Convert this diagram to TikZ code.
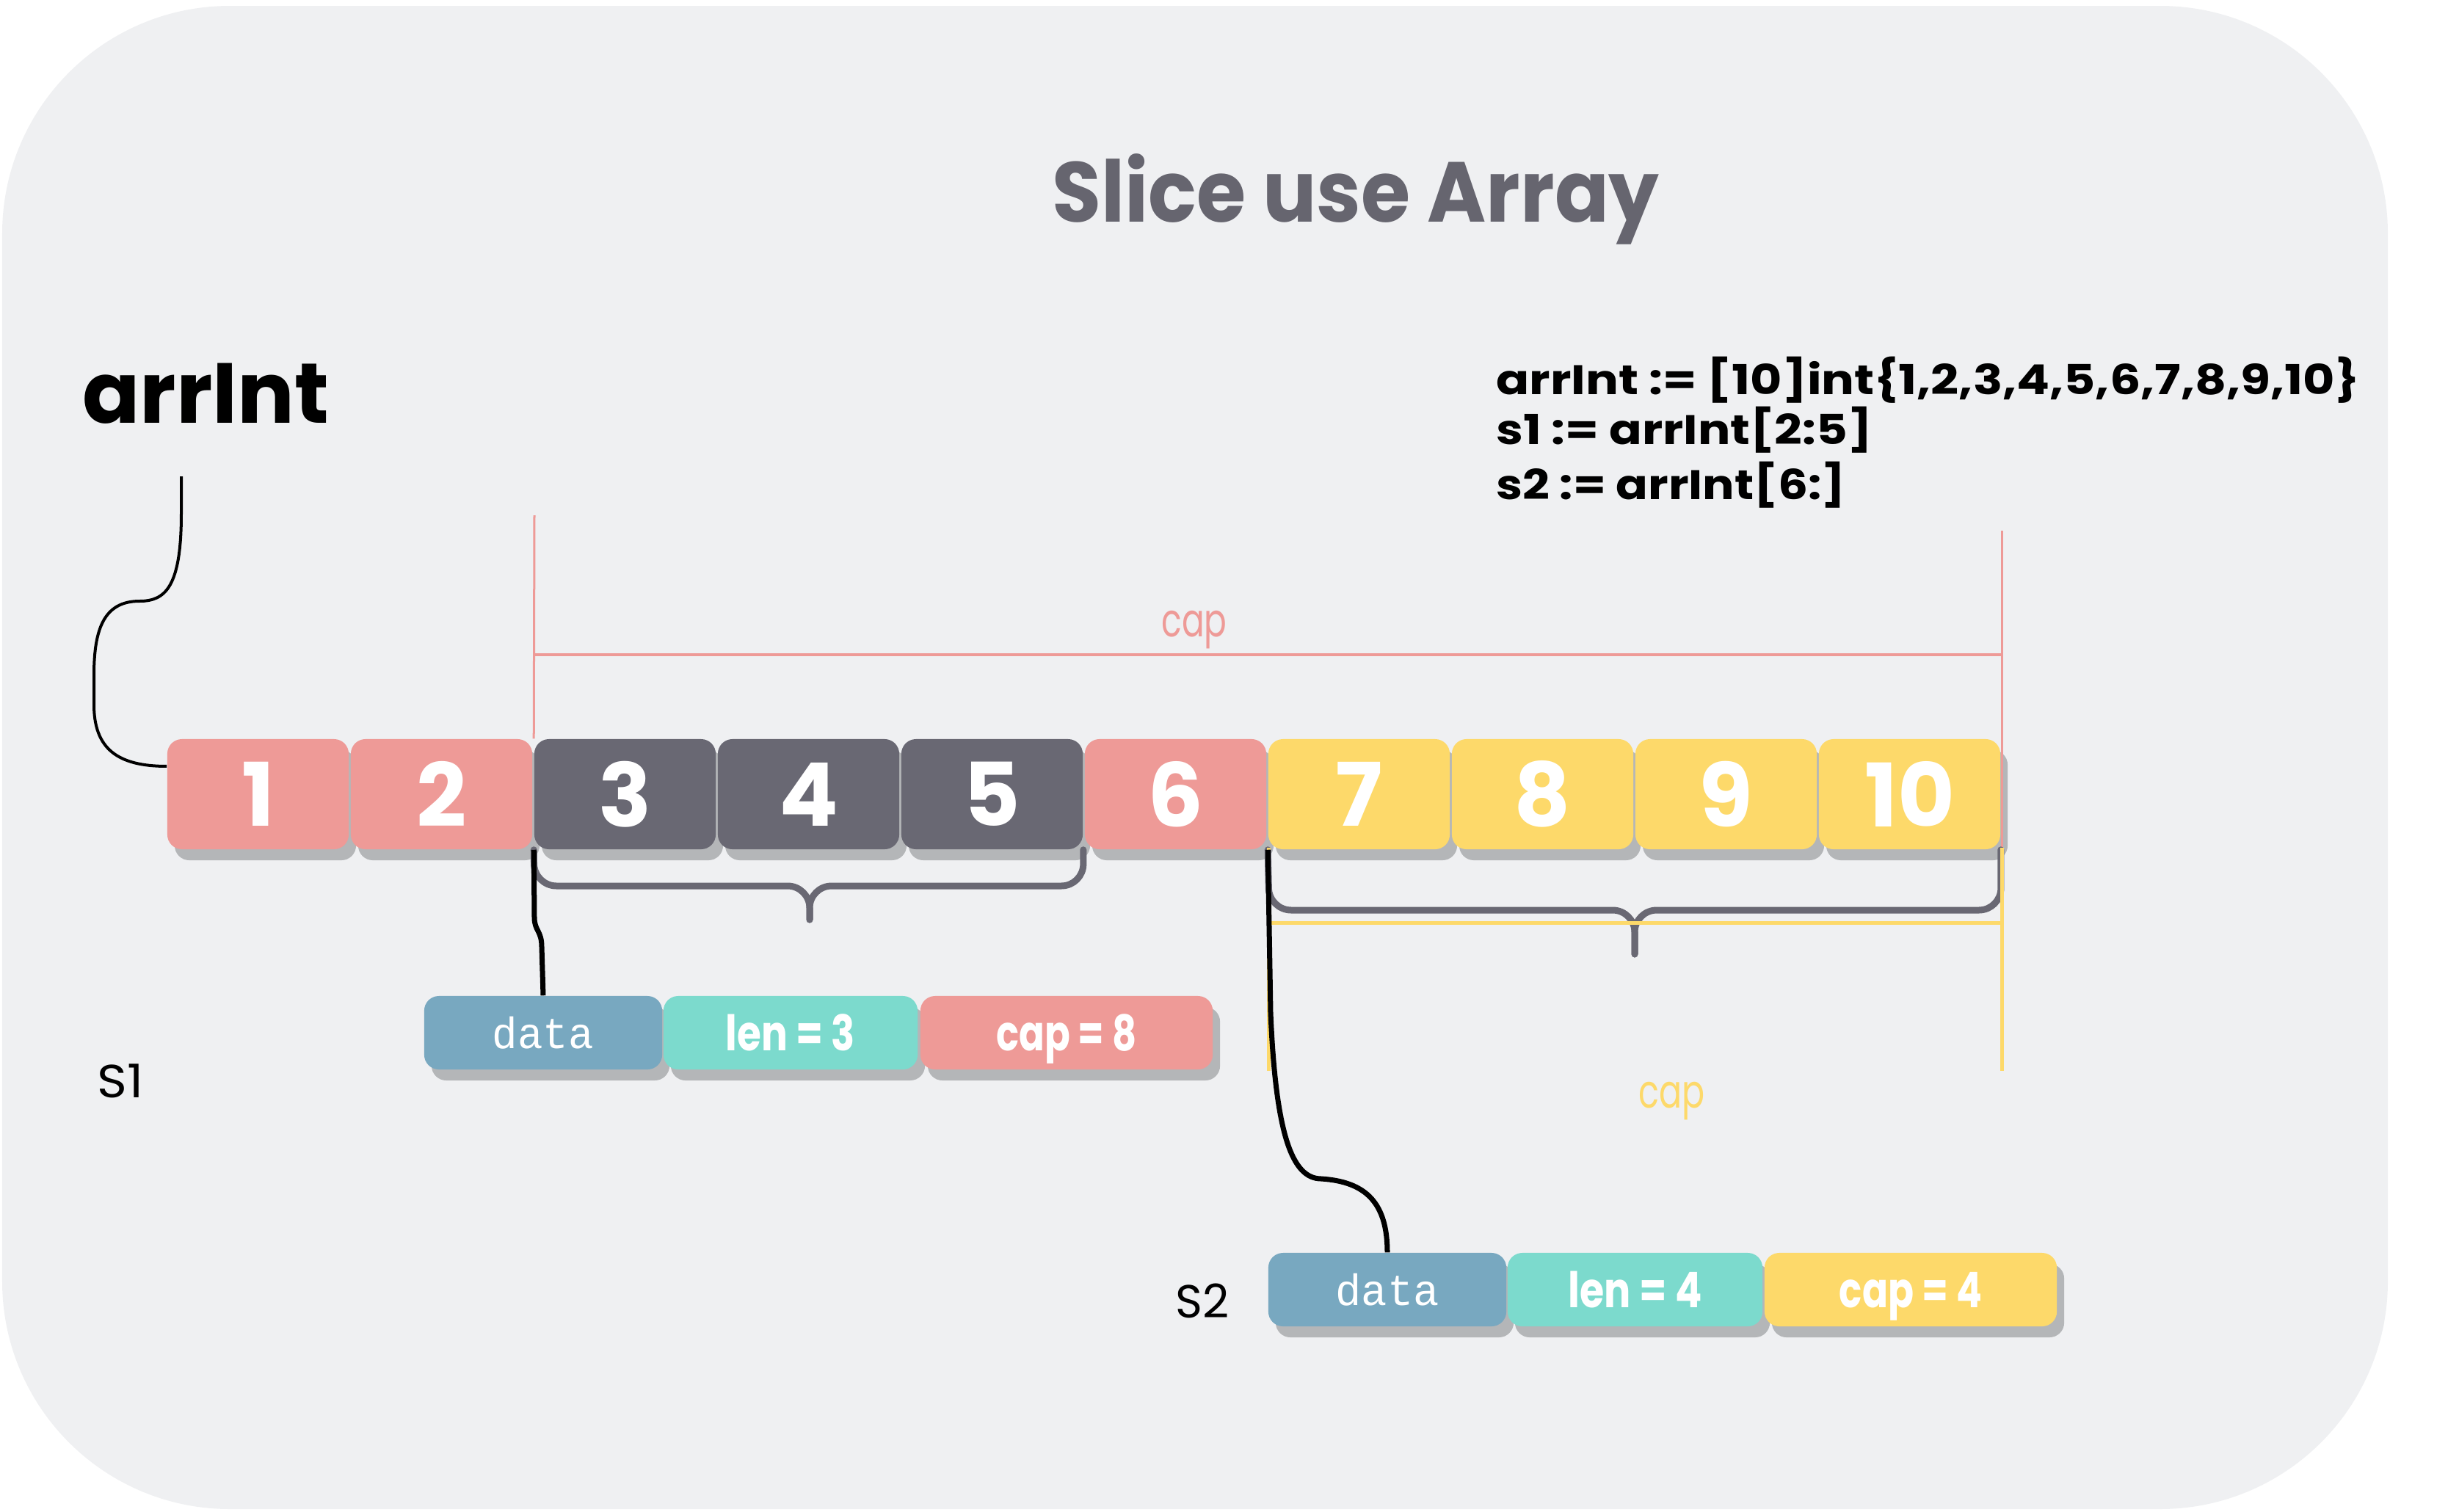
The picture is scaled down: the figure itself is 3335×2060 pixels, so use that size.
\documentclass[tikz,border=0pt]{standalone}
\usepackage{fontspec}
\setmainfont{Poppins}
\newfontfamily\monof{Liberation Mono}
\usetikzlibrary{shadows}
\definecolor{bgc}{HTML}{EFF0F2}
\definecolor{pk}{HTML}{EE9A97}
\definecolor{dk}{HTML}{696873}
\definecolor{yl}{HTML}{FDD96A}
\definecolor{bl}{HTML}{78A8C0}
\definecolor{tl}{HTML}{7CDACD}
\definecolor{shc}{HTML}{B4B6B8}
\definecolor{titc}{HTML}{66656F}
\newcommand\fitw[2]{\resizebox{#1}{\height}{#2}}
\begin{document}
\begin{tikzpicture}[x=0.01cm,y=-0.01cm,
  shadowed/.style={drop shadow={shadow xshift=0.1cm,shadow yshift=-0.15cm,fill=shc,opacity=1}},
  cell/.style={shadowed,rounded corners=0.2cm,minimum width=2.47cm,minimum height=1.5cm,inner sep=0pt,text=white,font=\fontsize{34}{40}\selectfont\bfseries},
  sbox/.style={shadowed,rounded corners=0.2cm,minimum height=1cm,inner sep=0pt,text=white,text depth=0pt,font=\fontsize{19}{22}\selectfont\bfseries},
  pinkline/.style={draw=pk,line width=0.03cm},
  yline/.style={draw=yl,line width=0.05cm},
  brace/.style={draw=dk,line width=0.09cm,rounded corners=0.3cm,line cap=round},
  conn/.style={draw=black,line width=0.07cm},
  connthin/.style={draw=black,line width=0.04cm}]
\useasboundingbox (0,0) rectangle (3335,2060);
\fill[bgc,rounded corners=3.1cm] (3,8) rectangle (3253,2056);

% title and labels
\node[anchor=base,text=titc,font=\fontsize{33}{40}\selectfont\bfseries] (title) at (1847,302) {\fitw{8.27cm}{Slice use Array}};
\node[anchor=base west,font=\fontsize{33}{40}\selectfont\bfseries] (arrlbl) at (100,576) {\fitw{3.36cm}{arrInt}};
\node[anchor=base west,font=\fontsize{16}{20}\selectfont\bfseries] (code1) at (2026,537) {\fitw{11.75cm}{arrInt := [10]int\{1,2,3,4,5,6,7,8,9,10\}}};
\node[anchor=base west,font=\fontsize{16}{20}\selectfont\bfseries] (code2) at (2026,605) {\fitw{5.12cm}{s1 := arrInt[2:5]}};
\node[anchor=base west,font=\fontsize{16}{20}\selectfont\bfseries] (code3) at (2026,680) {\fitw{4.76cm}{s2 := arrInt[6:]}};

% pink cap marker
\coordinate (pkTL) at (728,702);
\coordinate (pkTR) at (2727,723);
\coordinate (pkHL) at (728,892);
\coordinate (pkHR) at (2727,892);
\node[anchor=base,text=pk,font=\fontsize{18}{20}\selectfont] (capA) at (1627,867) {\fitw{0.89cm}{cap}};
\draw[pinkline,line width=0.04cm] (pkHL) -- (pkHR);

% cells
\foreach \i/\c in {1/pk,2/pk,3/dk,4/dk,5/dk,6/pk,7/yl,8/yl,9/yl,10/yl}{
  \node[cell,fill=\c] (c\i) at ({351.5+250*(\i-1)},1082) {\i};
}
\draw[pinkline] (pkTL) -- (c3.north west);
\coordinate (pkBR) at (2727,1155);
\draw[pinkline] (pkTR) -- (pkBR);

% braces
\draw[brace] (c3.south west) -- (728,1207) -- (1103,1207) -- (1103,1253);
\draw[brace] (c5.south east) -- (1476,1207) -- (1103,1207) -- (1103,1253);
\draw[brace] (c7.south west) -- (1729,1240) -- (2227,1240) -- (2227,1300);
\draw[brace] (c10.south east) -- (2726,1240) -- (2227,1240) -- (2227,1300);

% yellow cap marker
\coordinate (yTL) at (1728,1155);
\coordinate (yBL) at (1728,1459);
\coordinate (yTR) at (2727,1155);
\coordinate (yBR) at (2727,1459);
\coordinate (yHL) at (1728,1257);
\coordinate (yHR) at (2727,1257);
\draw[yline] (yTL) -- (yBL);
\draw[yline] (yTR) -- (yBR);
\draw[yline] (yHL) -- (yHR);
\node[anchor=base,text=yl,font=\fontsize{18}{20}\selectfont] (capB) at (2278,1509) {\fitw{0.9cm}{cap}};

% slice headers
\node[sbox,fill=bl,minimum width=3.24cm,font=\fontsize{17}{20}\monof] (d1) at (740,1407) {\fitw{1.38cm}{data}};
\node[sbox,fill=tl,minimum width=3.46cm] (l1) at (1077,1407) {\fitw{1.76cm}{len = 3}};
\node[sbox,fill=pk,minimum width=3.98cm] (p1) at (1453,1407) {\fitw{1.91cm}{cap = 8}};
\node[sbox,fill=bl,minimum width=3.24cm,font=\fontsize{17}{20}\monof] (d2) at (1890,1757) {\fitw{1.41cm}{data}};
\node[sbox,fill=tl,minimum width=3.47cm] (l2) at (2227.5,1757) {\fitw{1.82cm}{len = 4}};
\node[sbox,fill=yl,minimum width=3.98cm] (p2) at (2603,1757) {\fitw{1.94cm}{cap = 4}};

\node[anchor=base west,font=\fontsize{18}{20}\selectfont] (s1) at (120,1495) {\fitw{0.63cm}{S1}};
\node[anchor=base west,font=\fontsize{18}{20}\selectfont] (s2) at (1589,1795) {\fitw{0.73cm}{S2}};

% connectors
\coordinate (aStart) at (247,649);
\draw[connthin] (aStart) -- (247,700) .. controls (247,800) and (225,819) .. (190,819)
  .. controls (140,819) and (128,860) .. (128,920) -- (128,960)
  .. controls (128,1020) and (160,1044) .. ([yshift=0.38cm]c1.west);
\draw[conn] (c3.south west) -- (728,1250) .. controls (728,1268) and (738,1268) .. (738,1290) -- (d1.north);
\draw[conn] (c7.south west) -- (1731,1380) .. controls (1738,1545) and (1760,1606) .. (1800,1606)
  .. controls (1862,1610) and (1890,1640) .. (d2.north);
\end{tikzpicture}
\end{document}
